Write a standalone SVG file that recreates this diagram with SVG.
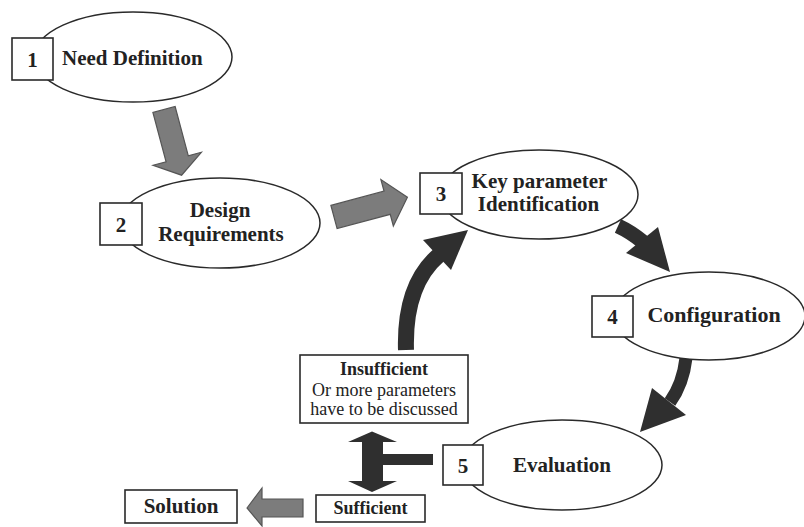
<svg xmlns="http://www.w3.org/2000/svg" width="804" height="527" viewBox="0 0 804 527">
<style>
.ell{fill:#fff;stroke:#2a2a2a;stroke-width:1.5}
.box{fill:#fff;stroke:#2a2a2a;stroke-width:1.6}
.t{font-family:"Liberation Serif","Times New Roman",serif;font-weight:bold;font-size:21px;fill:#222;text-anchor:middle}
.s{font-family:"Liberation Serif","Times New Roman",serif;font-size:18px;fill:#222;text-anchor:middle}
.sb{font-weight:bold}
.gray{fill:#7c7c7c;stroke:#555;stroke-width:1.2}
.dark{fill:#2f2f2f}
.darkline{fill:none;stroke:#2f2f2f}
</style>
<rect width="804" height="527" fill="#fff"/>
<g id="connectors">
  <polygon class="gray" transform="translate(164,109.5) rotate(75)" points="0,-11.5 51,-11.5 51,-25 68,0 51,25 51,11.5 0,11.5"/>
  <polygon class="gray" transform="translate(334,217) rotate(-15)" points="0,-12 55,-12 55,-24 76,0 55,24 55,12 0,12"/>
  <path class="darkline" d="M618,226 Q631,232 643,242" stroke-width="15"/>
  <polygon class="dark" points="626,253 658,227 670,272"/>
  <path class="darkline" d="M686,358 Q683,384 670,402" stroke-width="13"/>
  <polygon class="dark" points="652,388 686,415 640,432"/>
  <path class="darkline" d="M406,350 Q404,285 439,255" stroke-width="16"/>
  <polygon class="dark" points="423,240 451,270 468,230"/>
  <polygon class="dark" points="372,431.5 397,442 383,442 383,454 433,454 433,465 383,465 383,481 397,481 372,492 348,481 362,481 362,442 348,442"/>
  <polygon class="gray" points="247,508 262,488 262,499 303,499 303,517 262,517 262,526"/>
</g>
<g id="node1">
  <ellipse class="ell" cx="133" cy="57" rx="99" ry="45"/>
  <rect class="box" x="12" y="38" width="41" height="42"/>
  <text class="t" x="32.5" y="66.5">1</text>
  <text class="t" x="62" y="65" style="text-anchor:start">Need Definition</text>
</g>
<g id="node2">
  <ellipse class="ell" cx="220" cy="223" rx="100" ry="45"/>
  <rect class="box" x="100" y="203" width="42" height="42"/>
  <text class="t" x="121" y="231.5">2</text>
  <text class="t" x="220" y="217">Design</text>
  <text class="t" x="221" y="241">Requirements</text>
</g>
<g id="node3">
  <ellipse class="ell" cx="539" cy="194.5" rx="99" ry="44.5"/>
  <rect class="box" x="420" y="173" width="42" height="41"/>
  <text class="t" x="441" y="201">3</text>
  <text class="t" x="539.5" y="188">Key parameter</text>
  <text class="t" x="538.5" y="211">Identification</text>
</g>
<g id="node4">
  <ellipse class="ell" cx="709" cy="316" rx="96" ry="44"/>
  <rect class="box" x="592" y="296" width="41" height="41"/>
  <text class="t" x="612.5" y="324">4</text>
  <text class="t" x="714" y="322" style="font-size:22px">Configuration</text>
</g>
<g id="node5">
  <ellipse class="ell" cx="562" cy="465" rx="100" ry="45"/>
  <rect class="box" x="443" y="445" width="40" height="40"/>
  <text class="t" x="463" y="472.5">5</text>
  <text class="t" x="562" y="472">Evaluation</text>
</g>
<g id="insufficient">
  <rect class="box" x="300" y="355" width="168" height="68"/>
  <text class="s sb" x="384" y="375">Insufficient</text>
  <text class="s" x="384" y="396">Or more parameters</text>
  <text class="s" x="384" y="415">have to be discussed</text>
</g>
<g id="sufficient">
  <rect class="box" x="316" y="495" width="109" height="27"/>
  <text class="s sb" x="370.5" y="514">Sufficient</text>
</g>
<g id="solution">
  <rect class="box" x="125" y="490" width="112" height="33"/>
  <text class="t" x="181" y="513">Solution</text>
</g>
</svg>
